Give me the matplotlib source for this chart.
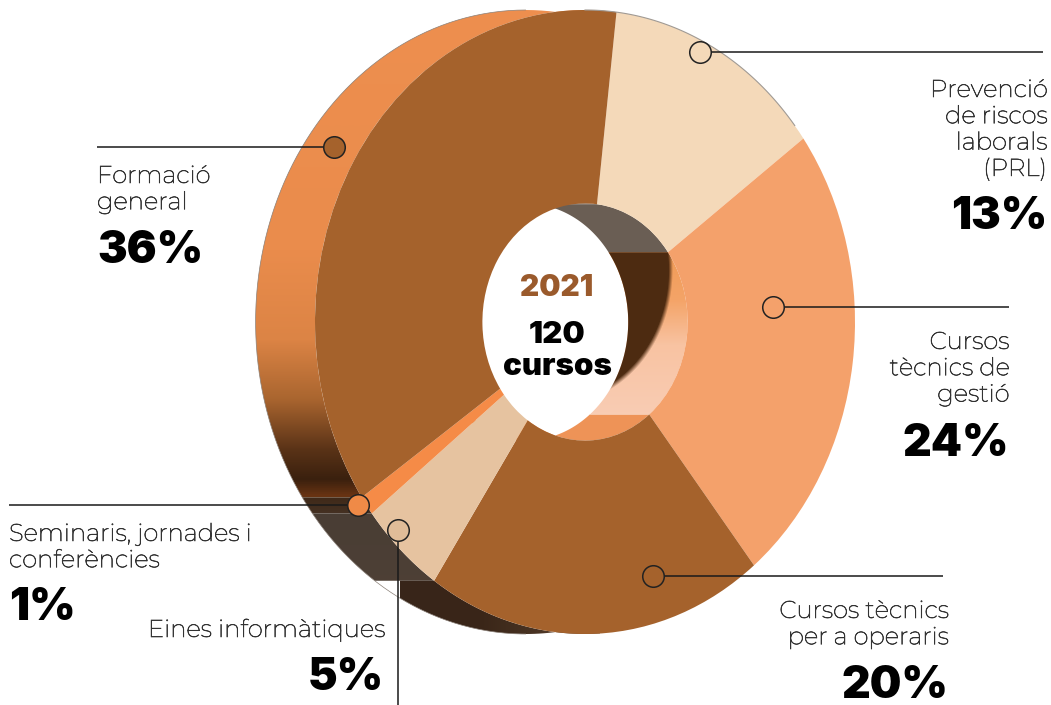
#!/usr/bin/env python3

""" 3D looking donut of the 2021 courses, drawn from the pie shares """

import numpy as np
import matplotlib
matplotlib.use('Agg')
import matplotlib.pyplot as plt
import matplotlib.patheffects as pe
from matplotlib.colors import LinearSegmentedColormap, to_rgb
from matplotlib.patches import Polygon, Rectangle

W, H = 1051, 705

#values, clockwise from the top
names = ['Prevenció de riscos laborals (PRL)', 'Cursos tècnics de gestió',
         'Cursos tècnics per a operaris', 'Eines informàtiques',
         'Seminaris, jornades i conferències', 'Formació general']
shares = [13, 24, 20, 5, 1, 36]
share_labels = ['13%', '24%', '20%', '5%', '1%', '36%']
face_colors = ['#F4D9B9', '#F4A16B', '#A5622C', '#E6C3A0', '#F58B47', '#A5622C']
dot_colors = ['#F4D9B9', '#F4A16B', '#A5622C', '#E0BC98', '#EF8A47', '#A5622C']

#label lines, text anchors in pixels
label_lines = [['Prevenció', 'de riscos', 'laborals', '(PRL)'],
               ['Cursos', 'tècnics de', 'gestió'],
               ['Cursos tècnics', 'per a operaris'],
               ['Eines informàtiques'],
               ['Seminaris, jornades i', 'conferències'],
               ['Formació', 'general']]
label_x = [1047, 1009, 948, 384, 9, 97]
label_y = [97, 349, 618, 637, 541, 183]
label_ha = ['right', 'right', 'right', 'right', 'left', 'left']
pct_y = [229, 456, 698, 690, 620, 263]
line_step = 26.3

dots = [(700, 52), (773, 307), (653, 576), (398, 530), (358, 505), (334, 147)]
leaders = [(1043, 52), (1009, 307), (943, 576), (398, 705), (9, 505), (97, 147)]

#donut geometry in pixels
CX, CY, RX, RY = 585, 322, 270, 312
HOLE = 0.38
SHIFT = 0.22
START = 83.3
CLIP_X = 853

TXT = '#333333'
LIGHT = dict(family=['Montserrat', 'Inter', 'DejaVu Sans'],
             path_effects=[pe.withStroke(linewidth=0.45, foreground=TXT)])
BOLD = dict(family=['Inter', 'DejaVu Sans'], weight=900)

fig = plt.figure(figsize=(W / 100, H / 100), dpi=100, facecolor='white')
ax = fig.add_axes([0, 0, 1, 1])

def to_x(px):
    return (px - CX) / RX

def to_y(py):
    return (CY - py) / RY

def wall_path(t1, t2, r):
    """ side wall between the front arc and the arc pushed back to the left """
    t = np.radians(np.linspace(t1, t2, 80))
    x = r * np.cos(t)
    y = r * np.sin(t)
    return np.column_stack([np.r_[x, x[::-1] - SHIFT], np.r_[y, y[::-1]]])

def add_clip(points):
    patch = Polygon(points, closed=True, facecolor='none', edgecolor='none')
    ax.add_patch(patch)
    return patch

def gradient_wall(points, stops, horizontal=False):
    """ stops are (pixel position, colour) along y, or along x """
    clip = add_clip(points)
    pos = np.array([s[0] for s in stops], dtype=float)
    cmap = LinearSegmentedColormap.from_list(
        'w', [((p - pos[0]) / (pos[-1] - pos[0]), s[1]) for p, s in zip(pos, stops)])
    ramp = np.linspace(0, 1, 256)
    if horizontal:
        im = ax.imshow(ramp[None, :], cmap=cmap, aspect='auto', zorder=0.5,
                       extent=[to_x(pos[0]), to_x(pos[-1]), -2, 2])
    else:
        im = ax.imshow(ramp[:, None], cmap=cmap, aspect='auto', zorder=0.5,
                       extent=[-3, 3, to_y(pos[-1]), to_y(pos[0])])
    im.set_clip_path(clip)

#slice edges from the shares
angle = 360 * np.cumsum([0] + shares) / sum(shares)
edges = START - angle

#outer wall on the left side
gradient_wall(wall_path(edges[5], edges[6], 1),
              [(0, '#EE8F4F'), (250, '#EA8C4C'), (340, '#DC8445'), (400, '#A9652F'),
               (450, '#5A3317'), (480, '#3A200E'), (497, '#6A3413'), (510, '#5A3010')])
gradient_wall(wall_path(edges[4], edges[5], 1), [(480, '#3A200E'), (530, '#4A3A2D')])
gradient_wall(wall_path(edges[3], edges[4], 1), [(500, '#483D34'), (590, '#4E4036')])
gradient_wall(wall_path(edges[2], edges[3], 1),
              [(400, '#38251A'), (480, '#3A2618'), (540, '#4A3424'), (600, '#7A5A44')],
              horizontal=True)

#inner wall on the right side of the hole
ax.add_patch(Polygon(wall_path(edges[0], edges[1], HOLE), closed=True, zorder=0.5,
                     facecolor='#6A5E54', edgecolor='none'))
ax.add_patch(Polygon(wall_path(90, edges[0], HOLE), closed=True, zorder=0.5,
                     facecolor='#6A5A4C', edgecolor='none'))
ax.add_patch(Polygon(wall_path(edges[2], edges[3], HOLE), closed=True, zorder=0.5,
                     facecolor='#EE9357', edgecolor='none'))
inner = wall_path(edges[1], edges[2], HOLE)
gradient_wall(inner, [(250, '#F09A55'), (300, '#F4A468'), (345, '#F8C3A2'), (420, '#F9CDB5')])

#dark shadow in the upper part of the gestió wall
gx, gy = np.meshgrid(np.linspace(to_x(480), to_x(720), 240), np.linspace(to_y(200), to_y(440), 240))
dist = np.hypot((gx - to_x(560)) / (110 / RX), (gy - to_y(270)) / (130 / RY))
shadow = np.zeros(dist.shape + (4,))
shadow[..., :3] = to_rgb('#4E2C12')
shadow[..., 3] = np.clip((1.03 - dist) / 0.04, 0, 1)
shadow_im = ax.imshow(shadow, aspect='auto', zorder=0.6,
                      extent=[to_x(480), to_x(720), to_y(440), to_y(200)])
shadow_im.set_clip_path(add_clip(inner))

#front face
wedges, _ = ax.pie(shares, colors=face_colors, startangle=START, counterclock=False,
                   radius=1, wedgeprops=dict(width=1 - HOLE, linewidth=0))
clip_rect = Rectangle((-3, -3), to_x(CLIP_X) + 3, 6, transform=ax.transData)
for w in wedges:
    w.set_clip_path(clip_rect)

#thin outline of the solid
t = np.radians(np.linspace(90, 270, 200))
ax.plot(np.cos(t) - SHIFT, np.sin(t), color='#8a8078', lw=0.5, zorder=1.1)
t = np.radians(np.linspace(edges[1] + 3, 90, 100))
ax.plot(np.cos(t), np.sin(t), color='#a09a94', lw=0.8, zorder=1.1)

ax.set_aspect('auto')
ax.set_xlim(to_x(0), to_x(W))
ax.set_ylim(to_y(H), to_y(0))
ax.axis('off')

#overlay in pixel coordinates for the labels
ov = fig.add_axes([0, 0, 1, 1], facecolor='none')
ov.set_xlim(0, W)
ov.set_ylim(H, 0)
ov.axis('off')

for i in range(len(names)):
    ov.plot([dots[i][0], leaders[i][0]], [dots[i][1], leaders[i][1]], color='#1a1a1a',
            lw=1.1, solid_capstyle='butt', zorder=2)
    ov.plot(dots[i][0], dots[i][1], 'o', ms=15.5, mfc=dot_colors[i], mec='#222222',
            mew=1.1, zorder=3)
    for k, line in enumerate(label_lines[i]):
        ov.text(label_x[i], label_y[i] + k * line_step, line, ha=label_ha[i], va='baseline',
                fontsize=17.5, color=TXT, **LIGHT)
    ov.text(label_x[i], pct_y[i], share_labels[i], ha=label_ha[i], va='baseline',
            fontsize=32, color='black', **BOLD)

ov.text(557, 296, '2021', ha='center', va='baseline', fontsize=21.5, color='#9A5A2C', **BOLD)
ov.text(557, 343, '120', ha='center', va='baseline', fontsize=22.5, color='black', **BOLD)
ov.text(557, 375, 'cursos', ha='center', va='baseline', fontsize=22.5, color='black', **BOLD)

fig.savefig('out.png', dpi=100, facecolor='white')
